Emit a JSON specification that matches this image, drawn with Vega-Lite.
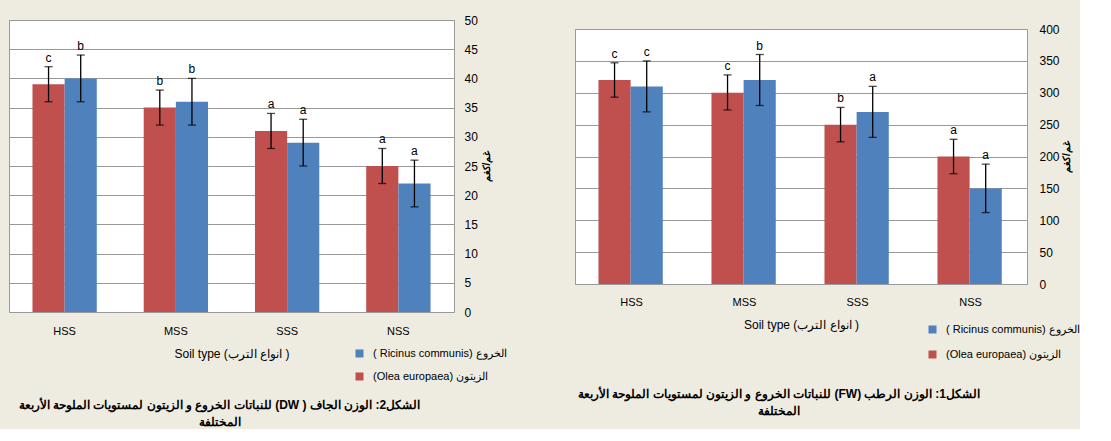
{
  "$schema": "https://vega.github.io/schema/vega-lite/v6.json",
  "background": "#EEECE1",
  "padding": {"left": 8, "top": 13, "right": 0, "bottom": 0},
  "config": {
    "font": "Liberation Sans",
    "view": {"fill": "white", "stroke": "#9a9a9a"},
    "axis": {"labelColor": "#000", "titleColor": "#000", "labelFont": "Liberation Sans", "titleFont": "Liberation Sans"},
    "legend": {"labelColor": "#000", "labelFont": "Liberation Sans"},
    "title": {"color": "#000", "font": "Liberation Sans"}
  },
  "datasets": {
    "dw": [
      {"soil": "HSS", "species": "(Olea europaea) الزيتون", "mean": 39, "lo": 36, "hi": 42, "sig": "c"},
      {"soil": "HSS", "species": "( Ricinus communis) الخروع", "mean": 40, "lo": 36, "hi": 44, "sig": "b"},
      {"soil": "MSS", "species": "(Olea europaea) الزيتون", "mean": 35, "lo": 32, "hi": 38, "sig": "b"},
      {"soil": "MSS", "species": "( Ricinus communis) الخروع", "mean": 36, "lo": 32, "hi": 40, "sig": "b"},
      {"soil": "SSS", "species": "(Olea europaea) الزيتون", "mean": 31, "lo": 28, "hi": 34, "sig": "a"},
      {"soil": "SSS", "species": "( Ricinus communis) الخروع", "mean": 29, "lo": 25, "hi": 33, "sig": "a"},
      {"soil": "NSS", "species": "(Olea europaea) الزيتون", "mean": 25, "lo": 22, "hi": 28, "sig": "a"},
      {"soil": "NSS", "species": "( Ricinus communis) الخروع", "mean": 22, "lo": 18, "hi": 26, "sig": "a"}
    ],
    "fw": [
      {"soil": "HSS", "species": "(Olea europaea) الزيتون", "mean": 320, "lo": 293, "hi": 347, "sig": "c"},
      {"soil": "HSS", "species": "( Ricinus communis) الخروع", "mean": 310, "lo": 270, "hi": 350, "sig": "c"},
      {"soil": "MSS", "species": "(Olea europaea) الزيتون", "mean": 300, "lo": 273, "hi": 328, "sig": "c"},
      {"soil": "MSS", "species": "( Ricinus communis) الخروع", "mean": 320, "lo": 280, "hi": 360, "sig": "b"},
      {"soil": "SSS", "species": "(Olea europaea) الزيتون", "mean": 250, "lo": 223, "hi": 277, "sig": "b"},
      {"soil": "SSS", "species": "( Ricinus communis) الخروع", "mean": 270, "lo": 230, "hi": 310, "sig": "a"},
      {"soil": "NSS", "species": "(Olea europaea) الزيتون", "mean": 200, "lo": 173, "hi": 227, "sig": "a"},
      {"soil": "NSS", "species": "( Ricinus communis) الخروع", "mean": 150, "lo": 112, "hi": 188, "sig": "a"}
    ]
  },
  "columns": 2,
  "align": "none",
  "spacing": 66,
  "resolve": {"legend": {"color": "independent"}, "scale": {"color": "independent"}},
  "concat": [
    {
      "width": 445,
      "height": 292,
      "data": {"name": "dw"},
      "title": {
        "text": ["\u202Bالشكل2: الوزن  الجاف ( DW) للنباتات الخروع و الزيتون  لمستويات الملوحة الأربعة\u202C", "\u202Bالمختلفة\u202C"],
        "orient": "bottom", "anchor": "middle", "fontSize": 12, "fontWeight": "bold", "lineHeight": 17, "dx": -12, "offset": 18
      },
      "encoding": {
        "x": {
          "field": "soil", "type": "nominal", "sort": ["HSS", "MSS", "SSS", "NSS"],
          "scale": {"paddingInner": 0, "paddingOuter": 0},
          "axis": {"labelAngle": 0, "ticks": false, "domain": false, "labelPadding": 13, "titlePadding": 12, "labelFontSize": 11, "titleFontSize": 12, "titleFontWeight": "normal"},
          "title": "Soil type (انواع الترب  )"
        },
        "xOffset": {
          "field": "species", "type": "nominal",
          "scale": {"domain": ["(Olea europaea) الزيتون", "( Ricinus communis) الخروع"], "paddingInner": 0, "paddingOuter": 0.73}
        }
      },
      "layer": [
        {
          "mark": {"type": "bar"},
          "encoding": {
            "y": {
              "field": "mean", "type": "quantitative", "scale": {"domain": [0, 50]}, "title": "غم/كغم",
              "axis": {"orient": "right", "values": [0, 5, 10, 15, 20, 25, 30, 35, 40, 45, 50], "labelOverlap": false, "grid": true, "gridColor": "#999999", "domain": false, "ticks": false, "labelPadding": 10, "labelFontSize": 12, "titleAngle": 270, "titleFontSize": 10, "titleFontWeight": "bold", "titlePadding": 14}
            },
            "color": {
              "field": "species", "type": "nominal",
              "scale": {"domain": ["( Ricinus communis) الخروع", "(Olea europaea) الزيتون"], "range": ["#4F81BD", "#C0504D"]},
              "legend": {"orient": "none", "legendX": 345, "legendY": 328, "title": null, "symbolType": "square", "symbolSize": 64, "symbolStrokeWidth": 0, "labelFontSize": 11, "rowPadding": 11, "labelOffset": 8, "padding": 0}
            }
          }
        },
        {
          "mark": {"type": "rule", "color": "black", "strokeWidth": 1.3},
          "encoding": {
            "y": {"field": "lo", "type": "quantitative", "title": "غم/كغم",
              "axis": {"orient": "right", "values": [0, 5, 10, 15, 20, 25, 30, 35, 40, 45, 50], "labelOverlap": false, "grid": true, "gridColor": "#999999", "domain": false, "ticks": false, "labelPadding": 10, "labelFontSize": 12, "titleAngle": 270, "titleFontSize": 10, "titleFontWeight": "bold", "titlePadding": 14}},
            "y2": {"field": "hi"}
          }
        },
        {
          "mark": {"type": "tick", "color": "black", "size": 8, "thickness": 1.3},
          "encoding": {
            "y": {"field": "lo", "type": "quantitative", "title": "غم/كغم",
              "axis": {"orient": "right", "values": [0, 5, 10, 15, 20, 25, 30, 35, 40, 45, 50], "labelOverlap": false, "grid": true, "gridColor": "#999999", "domain": false, "ticks": false, "labelPadding": 10, "labelFontSize": 12, "titleAngle": 270, "titleFontSize": 10, "titleFontWeight": "bold", "titlePadding": 14}}
          }
        },
        {
          "mark": {"type": "tick", "color": "black", "size": 8, "thickness": 1.3},
          "encoding": {
            "y": {"field": "hi", "type": "quantitative", "title": "غم/كغم",
              "axis": {"orient": "right", "values": [0, 5, 10, 15, 20, 25, 30, 35, 40, 45, 50], "labelOverlap": false, "grid": true, "gridColor": "#999999", "domain": false, "ticks": false, "labelPadding": 10, "labelFontSize": 12, "titleAngle": 270, "titleFontSize": 10, "titleFontWeight": "bold", "titlePadding": 14}}
          }
        },
        {
          "mark": {"type": "text", "dy": -9, "fontSize": 12, "fill": "#000000"},
          "encoding": {
            "y": {"field": "hi", "type": "quantitative", "title": "غم/كغم",
              "axis": {"orient": "right", "values": [0, 5, 10, 15, 20, 25, 30, 35, 40, 45, 50], "labelOverlap": false, "grid": true, "gridColor": "#999999", "domain": false, "ticks": false, "labelPadding": 10, "labelFontSize": 12, "titleAngle": 270, "titleFontSize": 10, "titleFontWeight": "bold", "titlePadding": 14}},
            "text": {"field": "sig"}
          }
        }
      ]
    },
    {
      "spacing": 0,
      "vconcat": [
        {
          "width": 452,
          "height": 1.5,
          "data": {"values": []},
          "mark": "point",
          "encoding": {},
          "view": {"fill": "transparent", "stroke": "transparent"}
        },
        {
          "width": 452,
          "height": 255,
          "data": {"name": "fw"},
          "title": {
            "text": ["\u202Bالشكل1: الوزن  الرطب (FW) للنباتات الخروع و الزيتون  لمستويات الملوحة الأربعة\u202C", "\u202Bالمختلفة\u202C"],
            "orient": "bottom", "anchor": "middle", "fontSize": 12, "fontWeight": "bold", "lineHeight": 17, "dx": -22, "offset": 59
          },
          "encoding": {
            "x": {
              "field": "soil", "type": "nominal", "sort": ["HSS", "MSS", "SSS", "NSS"],
              "scale": {"paddingInner": 0, "paddingOuter": 0},
              "axis": {"labelAngle": 0, "ticks": false, "domain": false, "labelPadding": 12, "titlePadding": 12, "labelFontSize": 11, "titleFontSize": 12, "titleFontWeight": "normal"},
              "title": "Soil type (انواع الترب  )"
            },
            "xOffset": {
              "field": "species", "type": "nominal",
              "scale": {"domain": ["(Olea europaea) الزيتون", "( Ricinus communis) الخروع"], "paddingInner": 0, "paddingOuter": 0.766}
            }
          },
          "layer": [
            {
              "mark": {"type": "bar"},
              "encoding": {
                "y": {
                  "field": "mean", "type": "quantitative", "scale": {"domain": [0, 400]}, "title": "غم/كغم",
                  "axis": {"orient": "right", "values": [0, 50, 100, 150, 200, 250, 300, 350, 400], "labelOverlap": false, "grid": true, "gridColor": "#999999", "domain": false, "ticks": false, "labelPadding": 12, "labelFontSize": 12, "titleAngle": 270, "titleFontSize": 10, "titleFontWeight": "bold", "titlePadding": 12}
                },
                "color": {
                  "field": "species", "type": "nominal",
                  "scale": {"domain": ["( Ricinus communis) الخروع", "(Olea europaea) الزيتون"], "range": ["#4F81BD", "#C0504D"]},
                  "legend": {"orient": "none", "legendX": 352, "legendY": 304, "title": null, "symbolType": "square", "symbolSize": 64, "symbolStrokeWidth": 0, "labelFontSize": 11, "rowPadding": 13, "labelOffset": 8, "padding": 0}
                }
              }
            },
            {
              "mark": {"type": "rule", "color": "black", "strokeWidth": 1.3},
              "encoding": {
                "y": {"field": "lo", "type": "quantitative", "title": "غم/كغم",
                  "axis": {"orient": "right", "values": [0, 50, 100, 150, 200, 250, 300, 350, 400], "labelOverlap": false, "grid": true, "gridColor": "#999999", "domain": false, "ticks": false, "labelPadding": 12, "labelFontSize": 12, "titleAngle": 270, "titleFontSize": 10, "titleFontWeight": "bold", "titlePadding": 12}},
                "y2": {"field": "hi"}
              }
            },
            {
              "mark": {"type": "tick", "color": "black", "size": 8, "thickness": 1.3},
              "encoding": {
                "y": {"field": "lo", "type": "quantitative", "title": "غم/كغم",
                  "axis": {"orient": "right", "values": [0, 50, 100, 150, 200, 250, 300, 350, 400], "labelOverlap": false, "grid": true, "gridColor": "#999999", "domain": false, "ticks": false, "labelPadding": 12, "labelFontSize": 12, "titleAngle": 270, "titleFontSize": 10, "titleFontWeight": "bold", "titlePadding": 12}}
              }
            },
            {
              "mark": {"type": "tick", "color": "black", "size": 8, "thickness": 1.3},
              "encoding": {
                "y": {"field": "hi", "type": "quantitative", "title": "غم/كغم",
                  "axis": {"orient": "right", "values": [0, 50, 100, 150, 200, 250, 300, 350, 400], "labelOverlap": false, "grid": true, "gridColor": "#999999", "domain": false, "ticks": false, "labelPadding": 12, "labelFontSize": 12, "titleAngle": 270, "titleFontSize": 10, "titleFontWeight": "bold", "titlePadding": 12}}
              }
            },
            {
              "mark": {"type": "text", "dy": -9, "fontSize": 12, "fill": "#000000"},
              "encoding": {
                "y": {"field": "hi", "type": "quantitative", "title": "غم/كغم",
                  "axis": {"orient": "right", "values": [0, 50, 100, 150, 200, 250, 300, 350, 400], "labelOverlap": false, "grid": true, "gridColor": "#999999", "domain": false, "ticks": false, "labelPadding": 12, "labelFontSize": 12, "titleAngle": 270, "titleFontSize": 10, "titleFontWeight": "bold", "titlePadding": 12}},
                "text": {"field": "sig"}
              }
            }
          ]
        }
      ]
    }
  ]
}
